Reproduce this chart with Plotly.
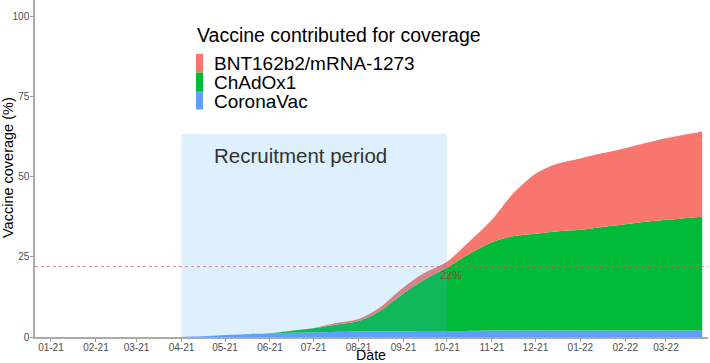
import plotly.graph_objects as go

dates = ["2021-01-01", "2021-02-01", "2021-03-01", "2021-04-01", "2021-04-15",
         "2021-05-01", "2021-05-15", "2021-06-01", "2021-06-15", "2021-07-01",
         "2021-07-15", "2021-08-01", "2021-08-15", "2021-09-01", "2021-09-15",
         "2021-10-01", "2021-10-15", "2021-11-01", "2021-11-15", "2021-12-01",
         "2021-12-15", "2022-01-01", "2022-01-15", "2022-02-01", "2022-02-15",
         "2022-03-01", "2022-03-26"]
coronavac = [0, 0, 0, 0, 0.2, 0.6, 0.85, 1.1, 1.3, 1.5, 1.6, 1.7, 1.8, 1.8, 1.9,
             1.9, 1.9, 2.0, 2.0, 2.0, 2.0, 2.0, 2.0, 2.0, 2.0, 2.0, 2.1]
chadox1 = [0, 0, 0, 0, 0, 0, 0, 0.1, 0.6, 1.2, 2.15, 3.3, 6.1, 11.8, 15.9,
           19.8, 23.7, 27.6, 29.5, 30.3, 31.0, 31.5, 32.3, 33.2, 34.0, 34.6, 35.5]
bnt = [0, 0, 0, 0, 0, 0, 0, 0, 0, 0.1, 0.45, 0.6, 1.1, 1.9, 2.1,
       1.8, 3.6, 7.0, 13.0, 18.7, 21.0, 22.3, 23.0, 23.8, 24.6, 25.5, 26.6]

series_names = ["CoronaVac", "ChAdOx1", "BNT162b2/mRNA-1273"]
series_values = [coronavac, chadox1, bnt]
series_colors = ["#619CFF", "#00BA38", "#F8766D"]
legend_order = ["BNT162b2/mRNA-1273", "ChAdOx1", "CoronaVac"]

y_ticks = [0, 25, 50, 75, 100]
recruit_start, recruit_end, recruit_top = "2021-04-01", "2021-10-01", 63.4
threshold = 22

FONT = "Liberation Sans, Arial, Helvetica, sans-serif"

fig = go.Figure()
for name, vals, col in zip(series_names, series_values, series_colors):
    fig.add_trace(go.Scatter(
        x=dates, y=vals, name=name, stackgroup="one", mode="lines",
        line=dict(width=0, shape="spline", smoothing=0.8, color=col),
        fillcolor=col, showlegend=False, hoverinfo="skip"))

# recruitment period rectangle
fig.add_shape(type="rect", xref="x", yref="y", x0=recruit_start, x1=recruit_end,
              y0=0, y1=recruit_top, fillcolor="rgba(86,180,233,0.2)",
              line=dict(width=0), layer="above")
# threshold line
fig.add_shape(type="line", xref="paper", yref="y", x0=0, x1=1, y0=threshold, y1=threshold,
              line=dict(color="rgba(240,90,90,0.75)", width=1, dash="dot"), layer="above")

fig.add_annotation(x="2021-04-22", y=56.7, xref="x", yref="y", text="Recruitment period",
                   showarrow=False, xanchor="left", yanchor="middle",
                   font=dict(family=FONT, size=20.5, color="#333333"))
fig.add_annotation(x="2021-10-04", y=19.4, xref="x", yref="y", text=f"{threshold}%",
                   showarrow=False, xanchor="center", yanchor="middle",
                   font=dict(family=FONT, size=11, color="rgba(170,50,40,0.85)"))

# manual legend
W, H = 673.0, 337.0
def px(xp):
    return (xp - 35) / W
def py(yp):
    return (337 - yp) / H

fig.add_annotation(x=px(196), y=py(35), xref="paper", yref="paper",
                   text="Vaccine contributed for coverage", showarrow=False,
                   xanchor="left", yanchor="middle", borderpad=0,
                   font=dict(family=FONT, size=19.5, color="#000000"))
key_tops = [54, 72.5, 91]
label_y = [63, 82.5, 101]
color_map = dict(zip(series_names, series_colors))
for name, kt, ly in zip(legend_order, key_tops, label_y):
    fig.add_shape(type="rect", xref="paper", yref="paper", x0=px(196), x1=px(203),
                  y0=py(kt + 18.5), y1=py(kt), fillcolor=color_map[name],
                  line=dict(width=0), layer="above")
    fig.add_annotation(x=px(213), y=py(ly), xref="paper", yref="paper", text=name,
                       showarrow=False, xanchor="left", yanchor="middle", borderpad=0,
                       font=dict(family=FONT, size=19, color="#000000"))

# axis titles
fig.add_annotation(x=px(371), y=py(355.3), xref="paper", yref="paper", text="Date",
                   showarrow=False, xanchor="center", yanchor="middle", borderpad=0,
                   font=dict(family=FONT, size=14.2, color="#000000"))
fig.add_annotation(x=px(8), y=py(168), xref="paper", yref="paper",
                   text="Vaccine coverage (%)", textangle=-90, showarrow=False,
                   xanchor="center", yanchor="middle",
                   font=dict(family=FONT, size=14.5, color="#000000"))

fig.update_layout(
    width=710, height=363,
    margin=dict(l=35, r=2, t=0, b=26),
    paper_bgcolor="white", plot_bgcolor="white",
    font=dict(family=FONT),
    showlegend=False,
    xaxis=dict(type="date", range=["2020-12-21", "2022-03-30"], dtick="M1",
               tick0="2021-01-01", tickformat="%m-%y", ticks="outside", ticklen=3,
               tickcolor="#999999", showline=True, linecolor="#aaaaaa", linewidth=1.5,
               showgrid=False, zeroline=False, ticklabelstandoff=-3,
               tickfont=dict(family=FONT, size=10, color="#4d4d4d")),
    yaxis=dict(range=[0, 105.3], tickvals=y_ticks, ticks="outside", ticklen=3,
               tickcolor="#999999", showline=True, linecolor="#aaaaaa", linewidth=1.5,
               showgrid=False, zeroline=False, ticklabelstandoff=-1,
               tickfont=dict(family=FONT, size=10, color="#4d4d4d")),
)

fig.write_html("out.html", config={"displayModeBar": False},
               post_script="document.body.style.margin='0';document.body.style.overflow='hidden';")
